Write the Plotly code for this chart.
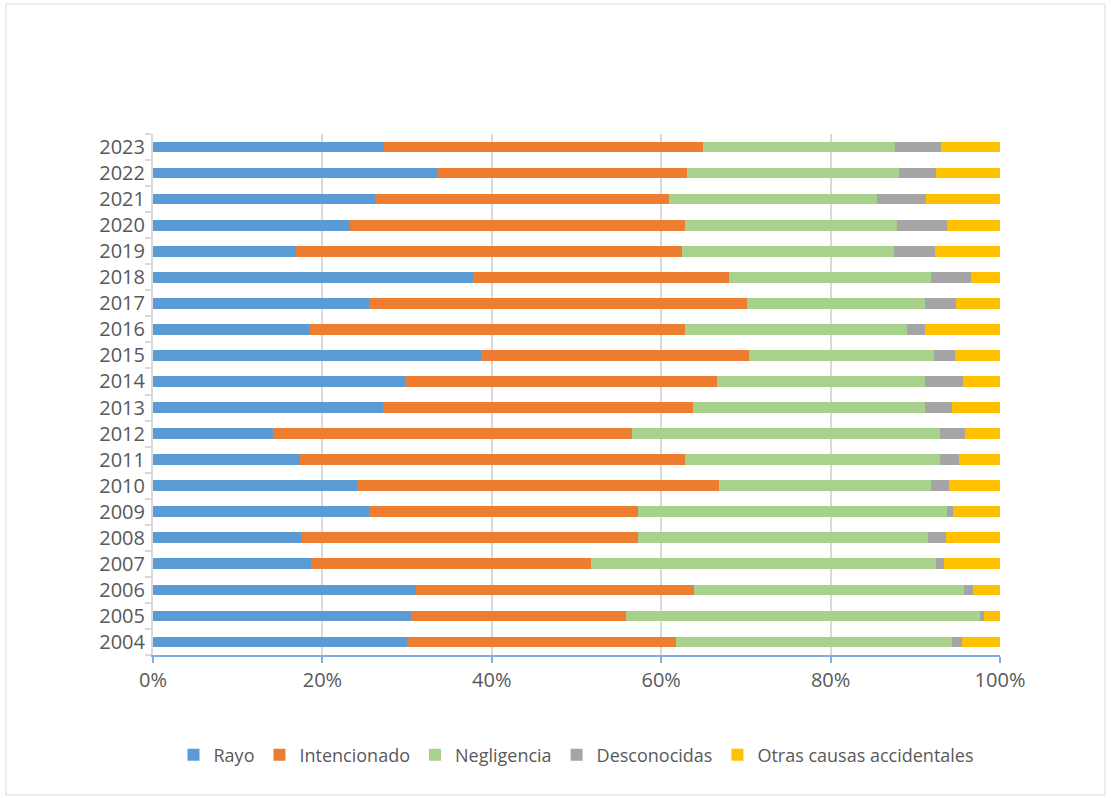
import plotly.graph_objects as go

years = [str(y) for y in range(2004, 2024)]

rayo = [30.0, 30.5, 31.1, 18.6, 17.5, 25.5, 24.1, 17.4, 14.2, 27.2,
        29.8, 38.7, 18.4, 25.5, 37.8, 16.9, 23.3, 26.2, 33.5, 27.3]
intencionado = [31.7, 25.3, 32.8, 33.1, 39.8, 31.8, 42.7, 45.4, 42.3, 36.6,
                36.8, 31.7, 44.4, 44.6, 30.2, 45.6, 39.5, 34.7, 29.5, 37.6]
negligencia = [32.6, 41.8, 31.9, 40.7, 34.2, 36.4, 25.0, 30.1, 36.4, 27.3,
               24.6, 21.8, 26.2, 21.0, 23.8, 25.0, 25.0, 24.6, 25.1, 22.7]
desconocidas = [1.2, 0.5, 1.0, 1.0, 2.1, 0.8, 2.2, 2.3, 3.0, 3.2,
                4.4, 2.5, 2.2, 3.7, 4.8, 4.8, 5.9, 5.8, 4.4, 5.4]
otras = [4.5, 1.9, 3.2, 6.6, 6.4, 5.5, 6.0, 4.8, 4.1, 5.7,
         4.4, 5.3, 8.8, 5.2, 3.4, 7.7, 6.3, 8.7, 7.5, 7.0]

series = [
    ("Rayo", rayo, "#5B9BD5"),
    ("Intencionado", intencionado, "#ED7D31"),
    ("Negligencia", negligencia, "#A9D18E"),
    ("Desconocidas", desconocidas, "#A5A5A5"),
    ("Otras causas accidentales", otras, "#FFC000"),
]

W, H = 1111, 798
L, R, T, B = 153, 1000, 134, 655
pw, ph = R - L, B - T

def px(x):
    return (x - L) / pw

def py(y):
    return (B - y) / ph

fig = go.Figure()
for name, vals, color in series:
    fig.add_trace(go.Bar(
        y=years, x=vals, name=name, orientation="h",
        marker=dict(color=color, line=dict(width=0)),
    ))

font_family = "Open Sans, Lato, sans-serif"
fs = 20
fig.update_layout(
    width=W, height=H,
    margin=dict(l=L, r=W - R, t=T, b=H - B, pad=0, autoexpand=False),
    barmode="stack", barnorm="percent", bargap=0.59,
    plot_bgcolor="white", paper_bgcolor="white",
    font=dict(family=font_family, size=fs, color="#595959"),
    showlegend=True,
    legend=dict(orientation="h", x=0.5, xanchor="center", y=py(755), yanchor="middle",
                traceorder="normal", font=dict(size=18, color="#595959"),
                itemwidth=30, tracegroupgap=0),
    xaxis=dict(range=[0, 100], dtick=20, tick0=0, ticksuffix="%",
               showgrid=True, gridcolor="#D9D9D9", gridwidth=2,
               showline=True, linecolor="#7FAEDD", linewidth=2,
               ticks="outside", ticklen=6, tickcolor="#7FAEDD", tickwidth=2,
               zeroline=False, fixedrange=True, automargin=False,
               tickfont=dict(size=fs, color="#595959")),
    yaxis=dict(type="category", showgrid=False, zeroline=False,
               showline=True, linecolor="#D9D9D9", linewidth=2,
               ticks="outside", ticklen=6, tickcolor="#D9D9D9", tickwidth=2,
               tickson="boundaries", ticklabelstandoff=2, automargin=False,
               tickfont=dict(size=fs, color="#595959")),
    shapes=[dict(type="rect", xref="paper", yref="paper",
                 x0=px(6), x1=px(1105), y0=py(795), y1=py(4),
                 line=dict(color="#D9D9D9", width=1), fillcolor="rgba(0,0,0,0)",
                 layer="below")],
)

fig.write_html("out.html", include_plotlyjs=True, config={"displayModeBar": False})
